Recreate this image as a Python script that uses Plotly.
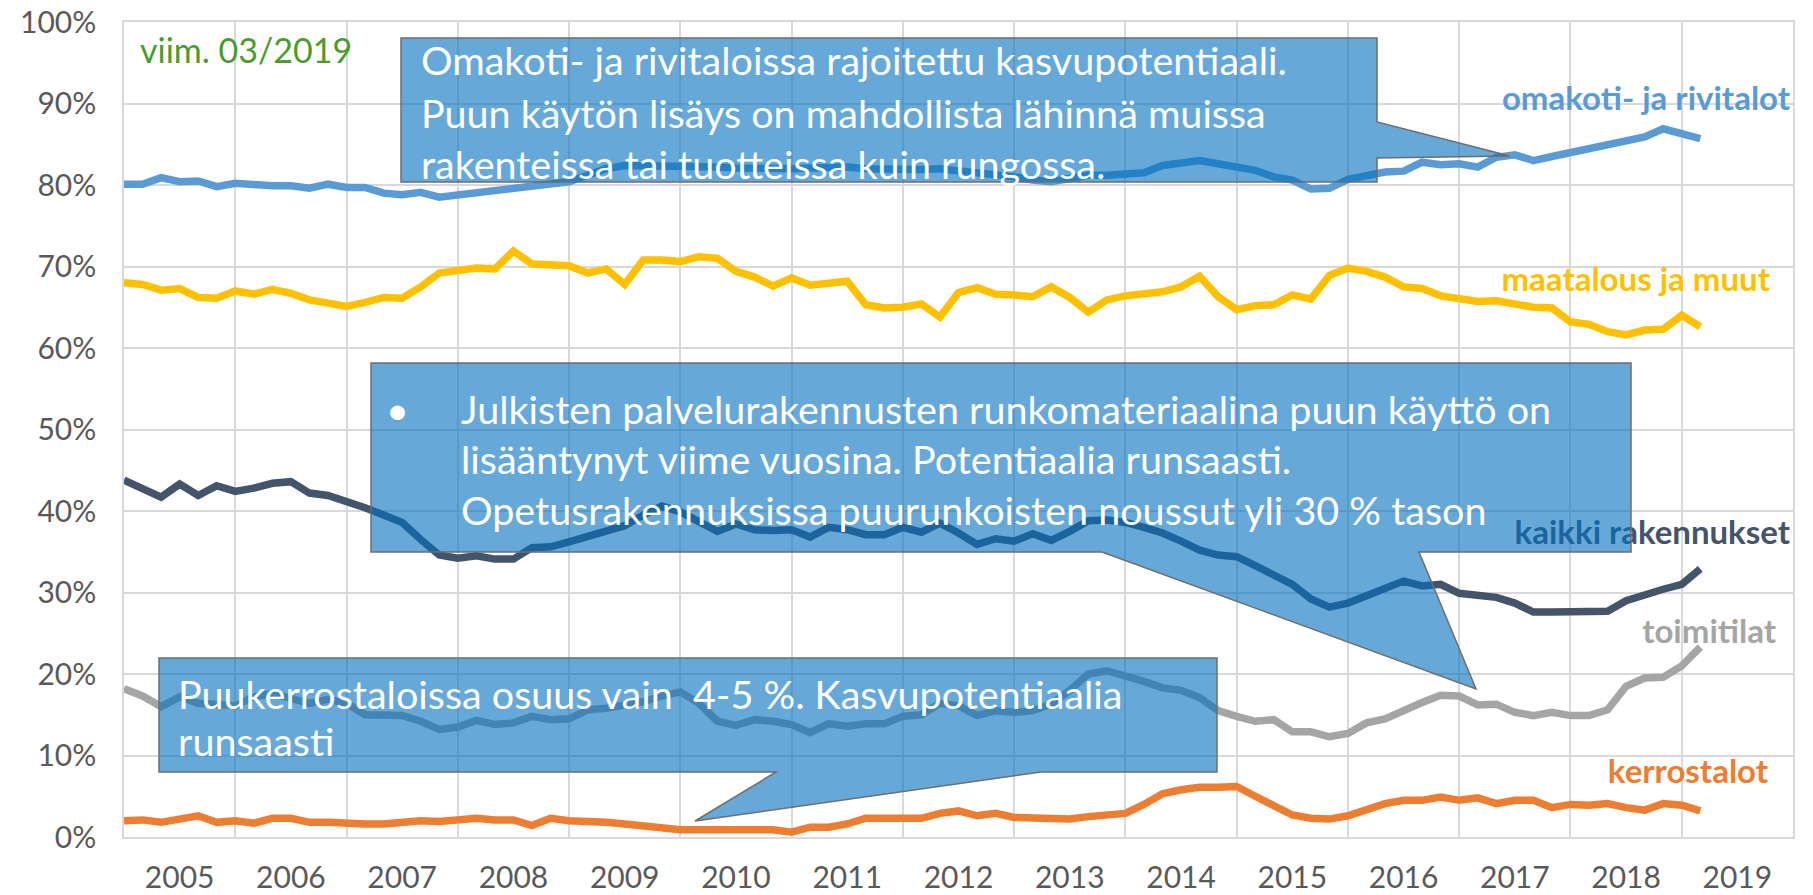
import plotly.graph_objects as go
import pandas as pd

# ---------------- data (bimonthly readings, Jan 2005 .. Mar 2019) ----------------
dates = pd.date_range("2005-01-01", "2019-03-01", freq="2MS")
t = [d.year + (d.month - 1) / 12 for d in dates]

omakoti = [
    80.1, 80.1, 80.9, 80.4, 80.5, 79.8,
    80.2, 80.0, 79.9, 79.9, 79.6, 80.1,
    79.7, 79.7, 79.0, 78.8, 79.1, 78.5,
    78.8, 78.9, 79.4, 79.6, 80.0, 80.1,
    80.4, 81.2, 82.0, 82.4, 82.4, 82.4,
    82.3, 82.2, 82.2, 82.1, 82.0, 82.0,
    82.0, 82.1, 82.2, 82.2, 82.0, 81.9,
    81.8, 81.9, 82.0, 81.8, 81.5, 81.4,
    81.0, 80.6, 80.4, 80.8, 81.2, 81.2,
    81.3, 81.5, 82.4, 82.7, 83.0, 82.6,
    82.3, 81.8, 81.0, 80.6, 79.5, 79.6,
    80.7, 81.2, 81.6, 81.7, 82.8, 82.5,
    82.6, 82.2, 83.4, 83.7, 83.0, 83.5,
    84.0, 84.4, 84.9, 85.3, 85.9, 86.9,
    86.2, 85.7]

maatalous = [
    68.0, 67.8, 67.1, 67.3, 66.2, 66.1,
    67.0, 66.6, 67.2, 66.7, 65.9, 65.5,
    65.1, 65.6, 66.2, 66.1, 67.5, 69.2,
    69.4, 69.8, 69.7, 71.9, 70.3, 70.1,
    70.1, 69.2, 69.7, 67.8, 70.8, 70.8,
    70.6, 71.2, 71.0, 69.4, 68.7, 67.6,
    68.6, 67.7, 68.0, 68.2, 65.3, 64.9,
    65.0, 65.4, 63.8, 66.8, 67.4, 66.6,
    66.5, 66.3, 67.5, 66.2, 64.4, 65.9,
    66.4, 66.6, 66.9, 67.5, 68.8, 66.3,
    64.7, 65.2, 65.3, 66.5, 66.0, 68.9,
    69.8, 69.4, 68.7, 67.5, 67.3, 66.4,
    66.0, 65.7, 65.8, 65.4, 65.0, 64.9,
    63.2, 62.9, 62.0, 61.6, 62.2, 62.3,
    64.0, 62.6]

kaikki = [
    43.8, 42.7, 41.7, 43.3, 41.9, 43.1,
    42.4, 42.8, 43.4, 43.6, 42.2, 41.9,
    41.2, 40.4, 39.5, 38.6, 36.5, 34.6,
    34.2, 34.5, 34.1, 34.1, 35.5, 35.6,
    36.2, 36.8, 37.5, 38.2, 39.5, 40.6,
    39.9, 38.6, 37.5, 38.4, 37.7, 37.6,
    37.7, 36.8, 38.0, 37.7, 37.1, 37.1,
    38.0, 37.4, 38.5, 37.3, 35.9, 36.6,
    36.3, 37.2, 36.4, 37.5, 38.8, 38.9,
    38.6, 38.0, 37.3, 36.3, 35.2, 34.6,
    34.4, 33.3, 32.1, 31.0, 29.2, 28.2,
    28.7, 29.6, 30.6, 31.4, 30.8, 31.0,
    29.9, 29.7, 29.4, 28.7, 27.6, 27.6,
    27.6, 27.8, 27.7, 29.0, 29.8, 30.4,
    31.0, 32.9]

toimitilat = [
    18.2, 17.3, 16.0, 17.2, 16.4, 16.3,
    16.1, 17.2, 17.6, 17.0, 16.4, 16.9,
    16.4, 15.0, 14.9, 14.9, 14.2, 13.2,
    13.5, 14.3, 13.8, 14.0, 14.8, 14.4,
    14.5, 15.6, 15.8, 16.2, 16.6, 17.3,
    17.8, 16.4, 14.2, 13.7, 14.4, 14.2,
    13.8, 12.8, 13.9, 13.6, 13.9, 13.9,
    14.8, 15.0, 16.4, 16.1, 14.9, 15.5,
    15.3, 15.5, 16.3, 18.0, 20.0, 20.4,
    19.8, 19.1, 18.3, 18.0, 17.1, 15.5,
    14.8, 14.2, 14.4, 12.9, 12.9, 12.3,
    12.7, 14.0, 14.5, 15.6, 16.5, 17.4,
    17.3, 16.2, 16.3, 15.3, 14.9, 15.3,
    14.9, 14.9, 15.6, 18.5, 19.5, 19.6,
    21.0, 23.3]

kerrostalot = [
    2.0, 2.1, 1.8, 2.2, 2.6, 1.8,
    2.0, 1.7, 2.3, 2.3, 1.8, 1.8,
    1.6, 1.6, 1.6, 1.8, 2.0, 1.9,
    2.0, 2.3, 2.1, 2.1, 1.4, 2.3,
    2.0, 2.0, 1.8, 1.6, 1.3, 1.2,
    0.9, 0.9, 0.9, 0.9, 0.9, 0.9,
    0.6, 1.2, 1.2, 1.6, 2.3, 2.3,
    2.5, 2.3, 2.9, 3.2, 2.6, 2.9,
    2.4, 2.3, 2.4, 2.2, 2.5, 2.8,
    2.9, 4.0, 5.3, 5.8, 6.1, 6.1,
    6.2, 5.0, 3.8, 2.7, 2.3, 2.2,
    2.6, 3.3, 4.1, 4.5, 4.5, 4.9,
    4.5, 4.8, 4.1, 4.5, 4.5, 3.6,
    4.0, 3.9, 4.1, 3.6, 3.3, 4.1,
    3.9, 3.2]

years = list(range(2005, 2020))
year_labels = [str(y) for y in years]
y_ticks = list(range(0, 101, 10))
y_labels = [f"{v}%" for v in y_ticks]

series_names = ["omakoti- ja rivitalot", "maatalous ja muut", "kaikki rakennukset",
                "toimitilat", "kerrostalot"]
series_values = [omakoti, maatalous, kaikki, toimitilat, kerrostalot]
series_colors = ["#5B9BD5", "#FFC000", "#44546A", "#A5A5A5", "#ED7D31"]

# ---------------- layout geometry (pixels) ----------------
W, H = 1813, 895
L, R, T, B = 124, 1793, 22, 837
FONT = "Lato"


def px2paper(x, y):
    return (x - L) / (R - L), (B - y) / (B - T)


def poly(points):
    parts = []
    for i, (x, y) in enumerate(points):
        px, py = px2paper(x, y)
        parts.append(("M" if i == 0 else "L") + f"{px:.5f},{py:.5f}")
    return " ".join(parts) + " Z"


fig = go.Figure()

for name, vals, col in zip(series_names, series_values, series_colors):
    fig.add_trace(go.Scatter(x=t, y=vals, mode="lines", name=name,
                             line=dict(color=col, width=7.5),
                             hoverinfo="skip", showlegend=False))

# series labels (as text so that callouts can lie above them)
label_pos = [  # (right edge px, centre y px)
    (1790, 102), (1770, 283), (1790, 536), (1776, 635), (1768, 775)]
for name, col, (xr, yc) in zip(series_names, series_colors, label_pos):
    fx = 2005 + (xr - L) / (R - L) * 15
    fy = (B - yc) / (B - T) * 100
    fig.add_trace(go.Scatter(x=[fx], y=[fy], mode="text", text=[f"<b>{name}</b>"],
                             textposition="middle left",
                             textfont=dict(family=FONT, size=33, color=col),
                             hoverinfo="skip", showlegend=False))

# callout shapes
callouts = [
    [(401, 38), (1377, 38), (1377, 122), (1510, 156), (1377, 158), (1377, 182), (401, 182)],
    [(371, 363), (1631, 363), (1631, 552), (1419, 552), (1476, 689), (1102, 552), (371, 552)],
    [(159, 658), (1217, 658), (1217, 772), (1041, 772), (695, 821), (776, 772), (159, 772)],
]
shapes = []
for pts in callouts:
    shapes.append(dict(type="path", xref="paper", yref="paper", path=poly(pts),
                       fillcolor="rgba(0,112,192,0.6)",
                       line=dict(color="rgba(110,110,110,1)", width=1.5),
                       layer="above"))

annotations = []
callout_lines = [
    (419, 60, "Omakoti- ja rivitaloissa rajoitettu kasvupotentiaali."),
    (419, 112, "Puun käytön lisäys on mahdollista lähinnä muissa"),
    (419, 163, "rakenteissa tai tuotteissa kuin rungossa."),
    (384, 408, "•"),
    (459, 408, "Julkisten palvelurakennusten runkomateriaalina puun käyttö on"),
    (459, 458, "lisääntynyt viime vuosina. Potentiaalia runsaasti."),
    (459, 509, "Opetusrakennuksissa puurunkoisten noussut yli 30 % tason"),
    (176, 693, "Puukerrostaloissa osuus vain\u00a0 4-5 %. Kasvupotentiaalia"),
    (176, 740, "runsaasti"),
]
for x, y, txt in callout_lines:
    px, py = px2paper(x, y)
    annotations.append(dict(x=px, y=py, xref="paper", yref="paper", text=txt,
                            showarrow=False, xanchor="left", yanchor="middle",
                            font=dict(family=FONT, size=39.5, color="white")))

vx, vy = px2paper(138, 49)
annotations.append(dict(x=vx, y=vy, xref="paper", yref="paper", text="viim. 03/2019",
                        showarrow=False, xanchor="left", yanchor="middle",
                        font=dict(family=FONT, size=34, color="#4A9B2F")))

fig.update_layout(
    width=W, height=H,
    margin=dict(l=L, r=W - R, t=T, b=H - B, pad=0, autoexpand=False),
    paper_bgcolor="white", plot_bgcolor="white",
    shapes=shapes, annotations=annotations,
    xaxis=dict(range=[2005, 2020], tickvals=[y + 0.5 for y in years], ticktext=year_labels,
               showgrid=False, ticks="", zeroline=False, automargin=False,
               showline=True, mirror=True, linecolor="#D9D9D9", linewidth=1.5,
               tickfont=dict(family=FONT, size=30, color="#595959"),
               ticklabelstandoff=13,
               minor=dict(tickvals=years + [2020], showgrid=True,
                          gridcolor="#D9D9D9", gridwidth=1.5, ticks="")),
    yaxis=dict(range=[0, 100], tickvals=y_ticks, ticktext=y_labels, automargin=False,
               showgrid=True, gridcolor="#D9D9D9", gridwidth=1.5, ticks="",
               zeroline=False, showline=True, mirror=True, linecolor="#D9D9D9",
               linewidth=1.5, tickfont=dict(family=FONT, size=30, color="#595959"),
               ticklabelstandoff=20),
)

fig.write_html(
    "out.html",
    config={"displayModeBar": False},
    post_script="document.body.style.margin='0';"
                "document.documentElement.style.overflow='hidden';"
                "document.body.style.overflow='hidden';",
)
